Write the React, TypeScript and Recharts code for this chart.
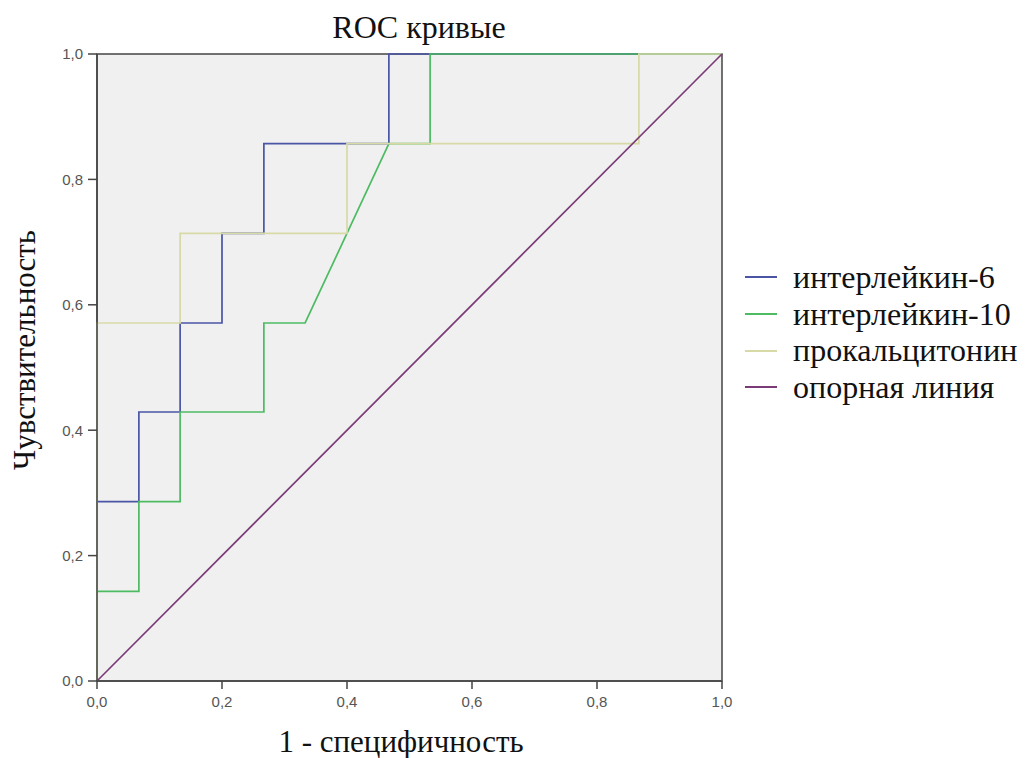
import { LineChart, Line, XAxis, YAxis, CartesianGrid, ReferenceArea } from 'recharts'

// 1 - specificity (x) and sensitivity (y)
const il6Fpr = [0, 0, 0.067, 0.067, 0.133, 0.133, 0.2, 0.2, 0.267, 0.267, 0.467, 0.467, 1]
const il6Tpr = [0, 0.286, 0.286, 0.429, 0.429, 0.571, 0.571, 0.714, 0.714, 0.857, 0.857, 1, 1]

const il10Fpr = [0, 0, 0.067, 0.067, 0.133, 0.133, 0.267, 0.267, 0.333, 0.467, 0.533, 0.533, 1]
const il10Tpr = [0, 0.143, 0.143, 0.286, 0.286, 0.429, 0.429, 0.571, 0.571, 0.857, 0.857, 1, 1]

const pctFpr = [0, 0, 0.133, 0.133, 0.4, 0.4, 0.867, 0.867, 1]
const pctTpr = [0, 0.571, 0.571, 0.714, 0.714, 0.857, 0.857, 1, 1]

const refFpr = [0, 1]
const refTpr = [0, 1]

const ticks = [0, 0.2, 0.4, 0.6, 0.8, 1]

const toPoints = (xs: number[], ys: number[]) => xs.map((x, i) => ({ x, y: ys[i] }))

const series = [
  { name: 'интерлейкин-6', color: '#4a55a6', data: toPoints(il6Fpr, il6Tpr) },
  { name: 'интерлейкин-10', color: '#4cbb62', data: toPoints(il10Fpr, il10Tpr) },
  { name: 'прокальцитонин', color: '#d7daa6', data: toPoints(pctFpr, pctTpr) },
  { name: 'опорная линия', color: '#7a3b76', data: toPoints(refFpr, refTpr) },
]

const serif = 'Liberation Serif, DejaVu Serif, serif'
const sans = 'Liberation Sans, Arial, sans-serif'
const fmt = (v: number) => v.toFixed(1).replace('.', ',')

const XLabel = (props: any) => {
  const { viewBox } = props
  return (
    <text x={401} y={viewBox.y + 71} textAnchor="middle" fontFamily={serif} fontSize={31} fill="#111">
      1 - специфичность
    </text>
  )
}

// SPSS puts this label a little above the middle of the axis
const YLabel = () => {
  const cx = 35
  const cy = 350
  return (
    <text x={cx} y={cy} transform={`rotate(-90 ${cx} ${cy})`} textAnchor="middle" fontFamily={serif} fontSize={31} fill="#111">
      Чувствительность
    </text>
  )
}

export default function App() {
  return (
    <div style={{ position: 'absolute', left: 0, top: 0, width: 1033, height: 758, background: '#fff' }}>
      <div
        style={{
          position: 'absolute', left: 0, width: 838, top: 11, textAlign: 'center',
          fontFamily: serif, fontSize: 32, lineHeight: '32px', color: '#111',
        }}
      >
        ROC кривые
      </div>
      <LineChart width={1033} height={758} margin={{ top: 54, right: 311, left: 52, bottom: 42 }}>
        <CartesianGrid fill="#f0f0f0" horizontal={false} vertical={false} />
        <XAxis
          type="number" dataKey="x" domain={[0, 1]} ticks={ticks} tickFormatter={fmt}
          height={35} tickSize={8} tickMargin={7} stroke="#444" strokeWidth={1.5}
          tick={{ fill: '#555', fontSize: 15, fontFamily: sans }}
          label={<XLabel />}
        />
        <YAxis
          type="number" dataKey="y" domain={[0, 1]} ticks={ticks} tickFormatter={fmt}
          width={45} tickSize={9} tickMargin={5} stroke="#444" strokeWidth={1.5}
          tick={{ fill: '#555', fontSize: 15, fontFamily: sans }}
          label={<YLabel />}
        />
        <ReferenceArea x1={0} x2={1} y1={0} y2={1} fill="none" stroke="#444" strokeWidth={1.5} strokeOpacity={1} />
        {series.map((s) => (
          <Line
            key={s.name} data={s.data} dataKey="y" type="linear" stroke={s.color}
            strokeWidth={1.7} dot={false} isAnimationActive={false}
          />
        ))}
      </LineChart>
      <div style={{ position: 'absolute', left: 745, top: 259, fontFamily: serif, fontSize: 32, color: '#111' }}>
        {series.map((s) => (
          <div key={s.name} style={{ display: 'flex', alignItems: 'center', height: 36.7, whiteSpace: 'nowrap' }}>
            <span style={{ display: 'inline-block', width: 32, height: 2, background: s.color, marginRight: 16 }} />
            <span>{s.name}</span>
          </div>
        ))}
      </div>
    </div>
  )
}
